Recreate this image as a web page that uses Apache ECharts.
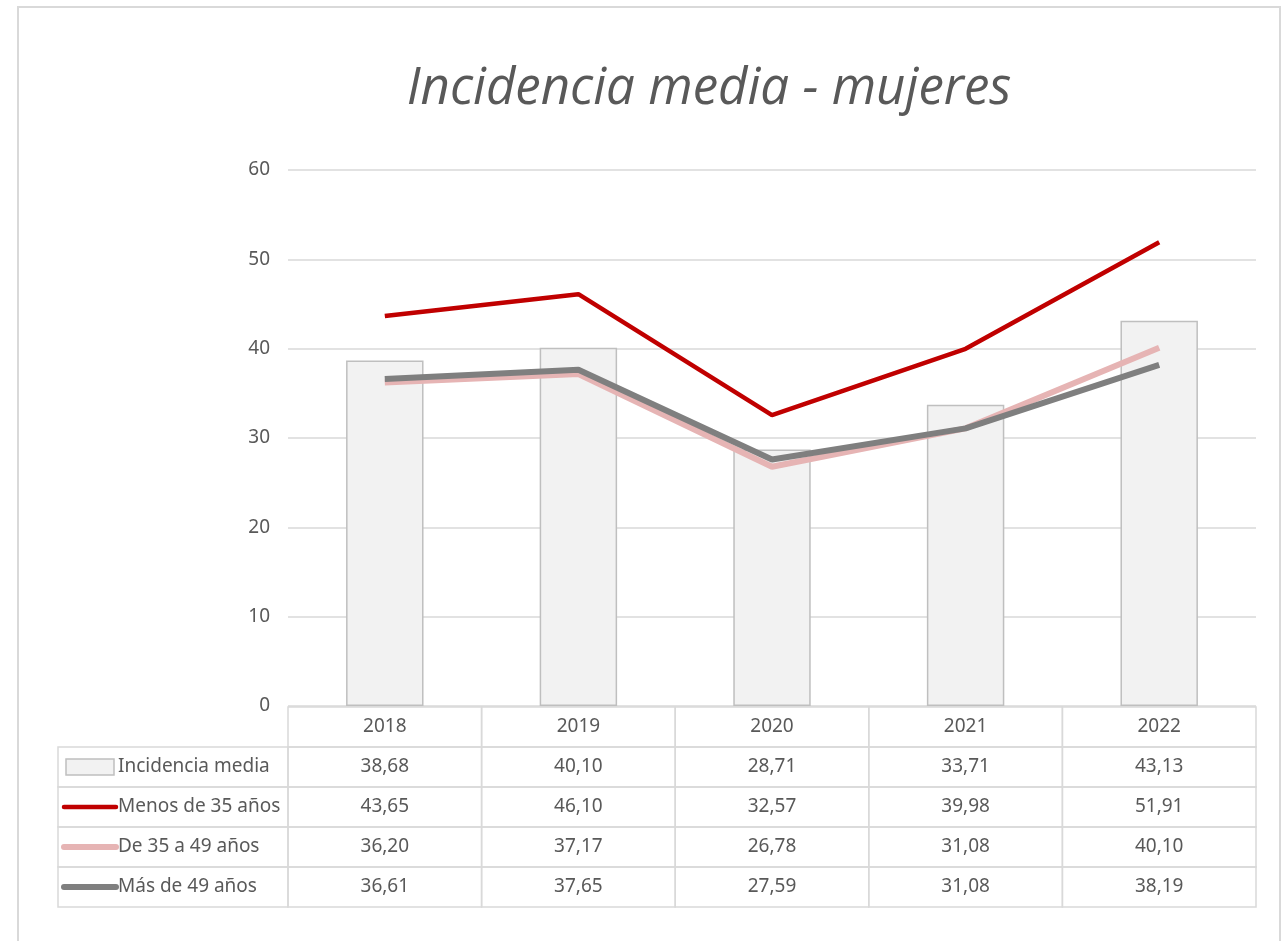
<!DOCTYPE html>
<html>
<head>
<meta charset="utf-8">
<script src="https://cdn.jsdelivr.net/npm/echarts@6/dist/echarts.min.js"></script>
<style>
html, body { margin: 0; padding: 0; background: #fff; }
#chart { width: 1286px; height: 941px; }
</style>
</head>
<body>
<div id="chart"></div>
<script>
// datos
const years = ['2018', '2019', '2020', '2021', '2022'];
const seriesNames = ['Incidencia media', 'Menos de 35 años', 'De 35 a 49 años', 'Más de 49 años'];
const incidencia = [38.68, 40.10, 28.71, 33.71, 43.13];
const menos35 = [43.65, 46.10, 32.57, 39.98, 51.91];
const de35a49 = [36.20, 37.17, 26.78, 31.08, 40.10];
const mas49 = [36.61, 37.65, 27.59, 31.08, 38.19];
const yMin = 0;
const yMax = 60;
const yStep = 10;

const rows = [incidencia, menos35, de35a49, mas49];
const colors = ['#F2F2F2', '#C00000', '#E6B4B4', '#7F7F7F'];
const lineWidths = [0, 4.5, 6, 6];
const txtColor = '#595959';
const tblFont = '"Liberation Sans Narrow", "Arial Narrow", "Noto Sans", sans-serif';
const tblSize = 19;
const fmt = v => v.toFixed(2).replace('.', ',');

// celdas de la tabla: [columna, fila, esEtiqueta]
const cells = [];
years.forEach((y, c) => cells.push([c, 0, 0]));
rows.forEach((r, ri) => {
  cells.push([0, ri + 1, 1]);
  r.forEach((v, c) => cells.push([c, ri + 1, 0]));
});

const myChart = echarts.init(document.getElementById('chart'));

function renderCell(params, api) {
  const c = api.value(0);
  const r = api.value(1);
  const isLabel = api.value(2) === 1;
  const center = api.coord([c, r]);
  const size = api.size([1, 1]);
  const top = center[1] - size[1] / 2;
  const lineStyle = { fill: 'none', stroke: '#D9D9D9', lineWidth: 1.5 };

  if (isLabel) {
    const labelW = 230;
    const x0 = params.coordSys.x - labelW;
    const mid = center[1];
    const ri = r - 1;
    let icon;
    if (ri === 0) {
      icon = {
        type: 'rect',
        shape: { x: x0 + 8, y: mid - 8, width: 48, height: 16 },
        style: { fill: colors[0], stroke: '#BFBFBF', lineWidth: 1.5 },
      };
    } else {
      icon = {
        type: 'line',
        shape: { x1: x0 + 6, y1: mid, x2: x0 + 58, y2: mid },
        style: { stroke: colors[ri], lineWidth: lineWidths[ri], lineCap: 'round' },
      };
    }
    return {
      type: 'group',
      children: [
        { type: 'rect', shape: { x: x0, y: top, width: labelW, height: size[1] }, style: lineStyle },
        icon,
        {
          type: 'text',
          style: {
            x: x0 + 60, y: mid, text: seriesNames[ri],
            fill: txtColor, font: tblSize + 'px ' + tblFont,
            align: 'left', verticalAlign: 'middle',
          },
        },
      ],
    };
  }

  const text = r === 0 ? years[c] : fmt(rows[r - 1][c]);
  return {
    type: 'group',
    children: [
      { type: 'rect', shape: { x: center[0] - size[0] / 2, y: top, width: size[0], height: size[1] }, style: lineStyle },
      {
        type: 'text',
        style: {
          x: center[0], y: center[1], text,
          fill: txtColor, font: tblSize + 'px ' + tblFont,
          align: 'center', verticalAlign: 'middle',
        },
      },
    ],
  };
}

const option = {
  animation: false,
  backgroundColor: '#fff',
  title: {
    text: 'Incidencia media - mujeres',
    left: 709,
    top: 64,
    textAlign: 'center',
    padding: 0,
    textStyle: {
      color: txtColor,
      fontFamily: '"Segoe Print", "Comic Sans MS", "Open Sans", sans-serif',
      fontStyle: 'italic',
      fontWeight: 'normal',
      fontSize: 51,
    },
  },
  graphic: [
    {
      type: 'rect',
      shape: { x: 18, y: 7, width: 1262, height: 1000 },
      style: { fill: 'none', stroke: '#D9D9D9', lineWidth: 2 },
      silent: true,
    },
  ],
  grid: [
    { left: 288, right: 30, top: 170, bottom: 235 },
    { left: 288, right: 30, top: 707, height: 200 },
  ],
  xAxis: [
    {
      type: 'category',
      gridIndex: 0,
      data: years,
      axisLine: { show: false },
      axisTick: { show: false },
      axisLabel: { show: false },
    },
    {
      type: 'category',
      gridIndex: 1,
      data: years,
      show: false,
    },
  ],
  yAxis: [
    {
      type: 'value',
      gridIndex: 0,
      min: yMin,
      max: yMax,
      interval: yStep,
      axisLine: { show: false },
      axisTick: { show: false },
      axisLabel: { color: txtColor, fontSize: tblSize, fontFamily: tblFont, margin: 18 },
      splitLine: { lineStyle: { color: '#D9D9D9', width: 1.5 } },
    },
    {
      type: 'category',
      gridIndex: 1,
      data: ['', ...seriesNames],
      inverse: true,
      show: false,
    },
  ],
  series: [
    {
      name: seriesNames[0],
      type: 'bar',
      data: incidencia,
      barWidth: '40%',
      itemStyle: { color: colors[0], borderColor: '#BFBFBF', borderWidth: 1.5 },
    },
    {
      name: seriesNames[2],
      type: 'line',
      data: de35a49,
      symbol: 'none',
      lineStyle: { color: colors[2], width: lineWidths[2] },
    },
    {
      name: seriesNames[3],
      type: 'line',
      data: mas49,
      symbol: 'none',
      lineStyle: { color: colors[3], width: lineWidths[3] },
    },
    {
      name: seriesNames[1],
      type: 'line',
      data: menos35,
      symbol: 'none',
      lineStyle: { color: colors[1], width: lineWidths[1] },
    },
    {
      type: 'custom',
      xAxisIndex: 1,
      yAxisIndex: 1,
      clip: false,
      silent: true,
      data: cells,
      renderItem: renderCell,
    },
  ],
};

myChart.setOption(option);
window.addEventListener('resize', () => {
  myChart.resize();
});
</script>
</body>
</html>
